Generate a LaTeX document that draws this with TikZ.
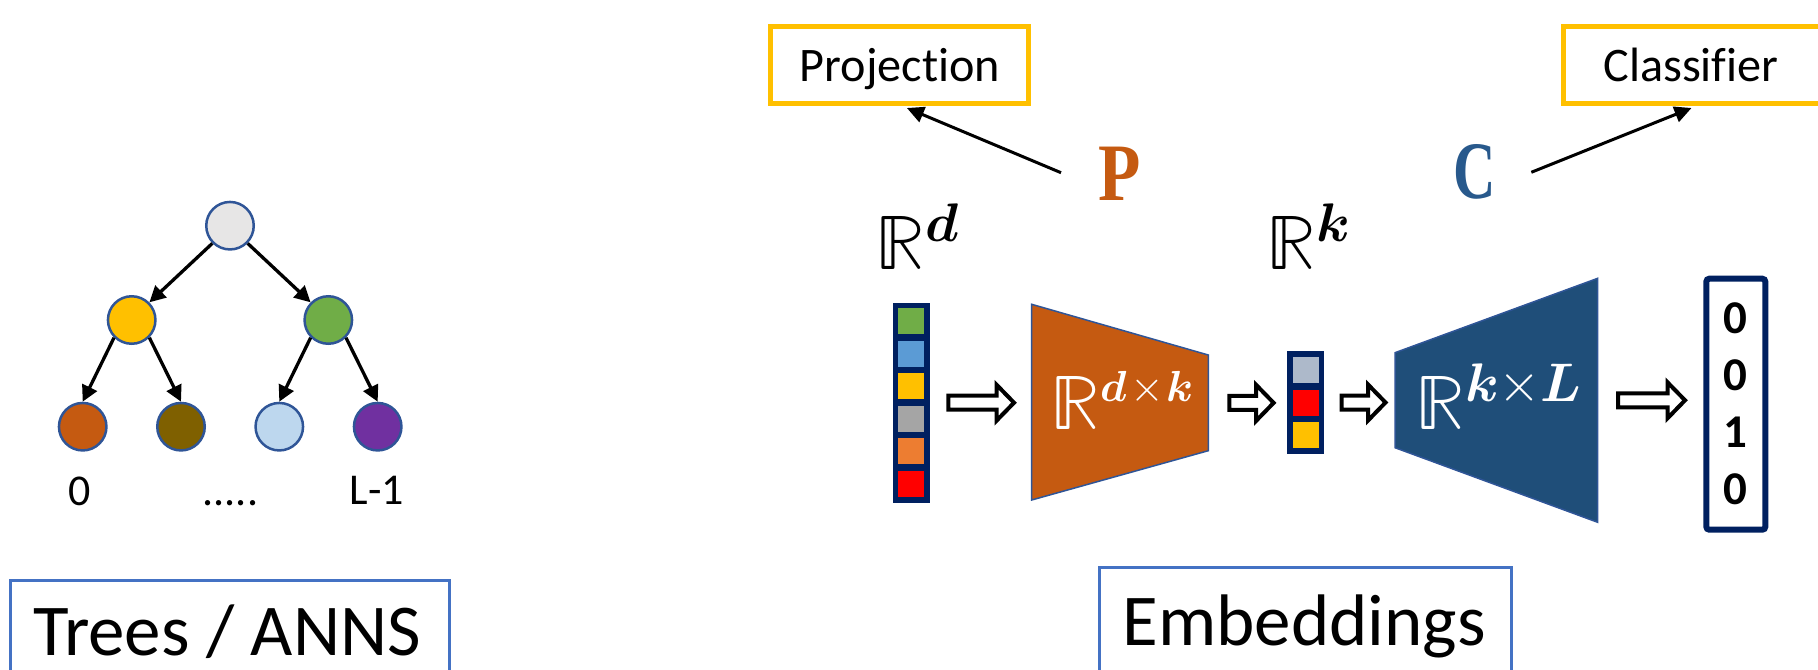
\documentclass[tikz,border=0pt]{standalone}
\usepackage{graphicx}
\usepackage{fontspec}
\usepackage{unicode-math}
\setmathfont{Latin Modern Math}
\newfontfamily\carlito{Carlito}[Ligatures=NoCommon]
\newfontfamily\timesb{Liberation Serif}
\usetikzlibrary{arrows.meta,calc}

\definecolor{navy}{HTML}{002060}
\definecolor{edgeblue}{HTML}{2F5597}
\definecolor{boxblue}{HTML}{4472C4}
\definecolor{gold}{HTML}{FFC000}
\definecolor{rust}{HTML}{C55A11}
\definecolor{deepblue}{HTML}{1F4E79}
\definecolor{cblue}{HTML}{28598C}
\definecolor{leafgreen}{HTML}{70AD47}
\definecolor{skyblue}{HTML}{5B9BD5}
\definecolor{midgray}{HTML}{A5A5A5}
\definecolor{tangerine}{HTML}{ED7D31}
\definecolor{olivebrown}{HTML}{7F6000}
\definecolor{paleblue}{HTML}{BDD7EE}
\definecolor{treepurple}{HTML}{7030A0}
\definecolor{rootgray}{HTML}{E7E6E6}
\definecolor{steel}{HTML}{ADB9CA}

\begin{document}
\begin{tikzpicture}[x=0.5pt,y=-0.5pt,
  treenode/.style={circle, draw=edgeblue, line width=1.25pt, minimum size=23.75pt, inner sep=0pt},
  treearrow/.style={-{Triangle[length=8pt,width=8pt]}, line width=1.65pt},
  leaftext/.style={inner sep=0pt, anchor=base, font=\carlito\fontsize{22}{26}\selectfont},
  tagframe/.style={draw=gold, line width=2.5pt, minimum height=38.5pt, inner sep=0pt},
  tagbox/.style={tagframe, text height=20pt, text depth=4pt, font=\carlito\fontsize{24.1}{28}\selectfont},
  titleframe/.style={draw=boxblue, line width=1.5pt, inner sep=0pt},
  titletext/.style={inner sep=0pt, anchor=base, font=\carlito\fontsize{36.5}{40}\selectfont},
  pointer/.style={-{Triangle[length=8.5pt,width=8pt]}, line width=1.5pt},
  realspace/.style={inner sep=0pt, anchor=base, font=\fontsize{38.8}{42}\selectfont},
  bigletter/.style={inner sep=0pt, anchor=base, font=\timesb\bfseries\fontsize{40.8}{44}\selectfont},
  digit/.style={inner sep=0pt, anchor=base, font=\carlito\bfseries\fontsize{23.5}{26}\selectfont},
  vecframe/.style={fill=navy, inner sep=0pt},
  matshape/.style={draw=edgeblue, line width=0.75pt},
  blockarrow/.style={draw=black, fill=white, line width=2pt, miter limit=10,
    to path={let \p1=(\tikztostart), \p2=(\tikztotarget) in
      (\x1,\y1+3.5pt) -- (\x2-8.75pt,\y1+3.5pt) -- (\x2-8.75pt,\y1+9pt) -- (\x2,\y1)
      -- (\x2-8.75pt,\y1-9pt) -- (\x2-8.75pt,\y1-3.5pt) -- (\x1,\y1-3.5pt) -- cycle}},
]
\useasboundingbox (0,0) rectangle (1818,669);
\clip (0,0) rectangle (1818,669);

% ---------- tree ----------
\node[treenode, fill=rootgray]   (root) at (230,225.7) {};
\node[treenode, fill=gold]       (n1)   at (131.7,320) {};
\node[treenode, fill=leafgreen]  (n2)   at (328.3,320) {};
\node[treenode, fill=rust]       (l1)   at (82.7,426.7) {};
\node[treenode, fill=olivebrown] (l2)   at (181,426.7) {};
\node[treenode, fill=paleblue]   (l3)   at (279.3,426.7) {};
\node[treenode, fill=treepurple] (l4)   at (377.7,426.7) {};
\draw[treearrow] (root.south west) -- (n1.north east);
\draw[treearrow] (root.south east) -- (n2.north west);
\draw[treearrow] (n1.south west) -- (l1.north);
\draw[treearrow] (n1.south east) -- (l2.north);
\draw[treearrow] (n2.south west) -- (l3.north);
\draw[treearrow] (n2.south east) -- (l4.north);
\node[leaftext] (lab0)    at (80,505)    {0};
\node[leaftext] (labdots) at (230.5,505) {.....};
\node[leaftext] (labL)    at (376.7,504) {L-1};

% title frame runs past the lower edge
\node[titleframe, minimum width=219.2pt, minimum height=80pt] (trees) at (230,660.5) {};
\node[titletext] (treestext) at (227,655) {Trees / ANNS};

% ---------- input vector ----------
\node[vecframe, minimum width=18.35pt, minimum height=100pt] (vd) at (911.65,402.7) {};
\foreach \c [count=\i] in {leafgreen,skyblue,gold,midgray,tangerine,red}
  \fill[\c] (898.3,{288.7+32.5*\i-12.85}) rectangle (924,{288.7+32.5*\i+12.85});
\node[realspace] (rd) at (918.3,269.3) {$\mathbb{R}^{\symbfit{d}}$};

% ---------- projection matrix ----------
\path[matshape, fill=rust] (1031.7,304.3) -- (1208.3,355) -- (1208.3,450.7) -- (1031.7,500) -- cycle;
\coordinate (projW) at (1031.7,402.15);
\coordinate (projE) at (1208.3,402.85);
\node[realspace, text=white] (projmat) at (1122.4,429.3)
  {$\mathbb{R}^{\scalebox{0.8}{$\scriptstyle\symbfit{d}\mkern1mu\times\mkern1mu\symbfit{k}$}}$};

% ---------- embedding vector ----------
\node[vecframe, minimum width=18.8pt, minimum height=51.8pt] (vk) at (1305.5,402.5) {};
\foreach \c [count=\i] in {steel,red,gold}
  \fill[\c] (1292.6,{337+32.75*\i-13}) rectangle (1318.9,{337+32.75*\i+13});
\node[realspace] (rk) at (1308.3,269.3) {$\mathbb{R}^{\symbfit{k}}$};

% ---------- classifier matrix ----------
\path[matshape, fill=deepblue] (1395,352.7) -- (1597.7,278.3) -- (1597.7,522.3) -- (1395,447.7) -- cycle;
\coordinate (clsW) at (1395,400.2);
\coordinate (clsE) at (1597.7,400.3);
\node[realspace, text=white] (clsmat) at (1499.3,429.3) {$\mathbb{R}^{\symbfit{k}\times\symbfit{L}}$};

% ---------- output label vector ----------
\node[draw=navy, line width=3pt, rounded corners=1.5pt, minimum width=29.5pt, minimum height=125.5pt,
      inner sep=0pt] (outv) at (1735.8,404.2) {};
\node[digit] (o1) at (1735.7,333)   {0};
\node[digit] (o2) at (1735.7,390.2) {0};
\node[digit] (o3) at (1735.7,447.4) {1};
\node[digit] (o4) at (1735.7,504.6) {0};

% ---------- block arrows ----------
\draw[blockarrow] ([xshift=9pt]vd.east) to ([xshift=-8.85pt]projW);
\draw[blockarrow] ([xshift=10.5pt]projE) to ([xshift=-6.35pt]vk.west);
\draw[blockarrow] ([xshift=8.5pt]vk.east) to ([xshift=-4.75pt]clsW);
\draw[blockarrow] ([xshift=10.15pt]clsE) to ([xshift=-9.15pt]outv.west);

% ---------- P and C with their tags ----------
\node[bigletter, text=rust]  (pletter) at (1119.5,200)   {\scalebox{0.85}[1]{P}};
\node[bigletter, text=cblue] (cletter) at (1474.5,198.5) {\scalebox{0.72}[1]{C}};

\node[tagbox, minimum width=129pt] (proj) at (899.9,65) {Projection};
\node[tagframe, minimum width=133.4pt] (clsf) at (1696.6,65) {};
\node[inner sep=0pt, anchor=base, font=\carlito\fontsize{24.1}{28}\selectfont] (clsftext) at (1691,81) {Classifier};

\coordinate (pfoot) at (1061,172.7);
\coordinate (cfoot) at (1531.3,172.3);
\draw[pointer] (pfoot) -- ([xshift=3.5pt,yshift=-1pt]proj.south);
\draw[pointer] (cfoot) -- ([xshift=-2.55pt,yshift=-1pt]clsf.south);

\node[titleframe, minimum width=206.3pt, minimum height=77.5pt] (embed) at (1305.5,645) {};
\node[titletext] (embedtext) at (1304.3,645) {Embeddings};
\end{tikzpicture}
\end{document}
